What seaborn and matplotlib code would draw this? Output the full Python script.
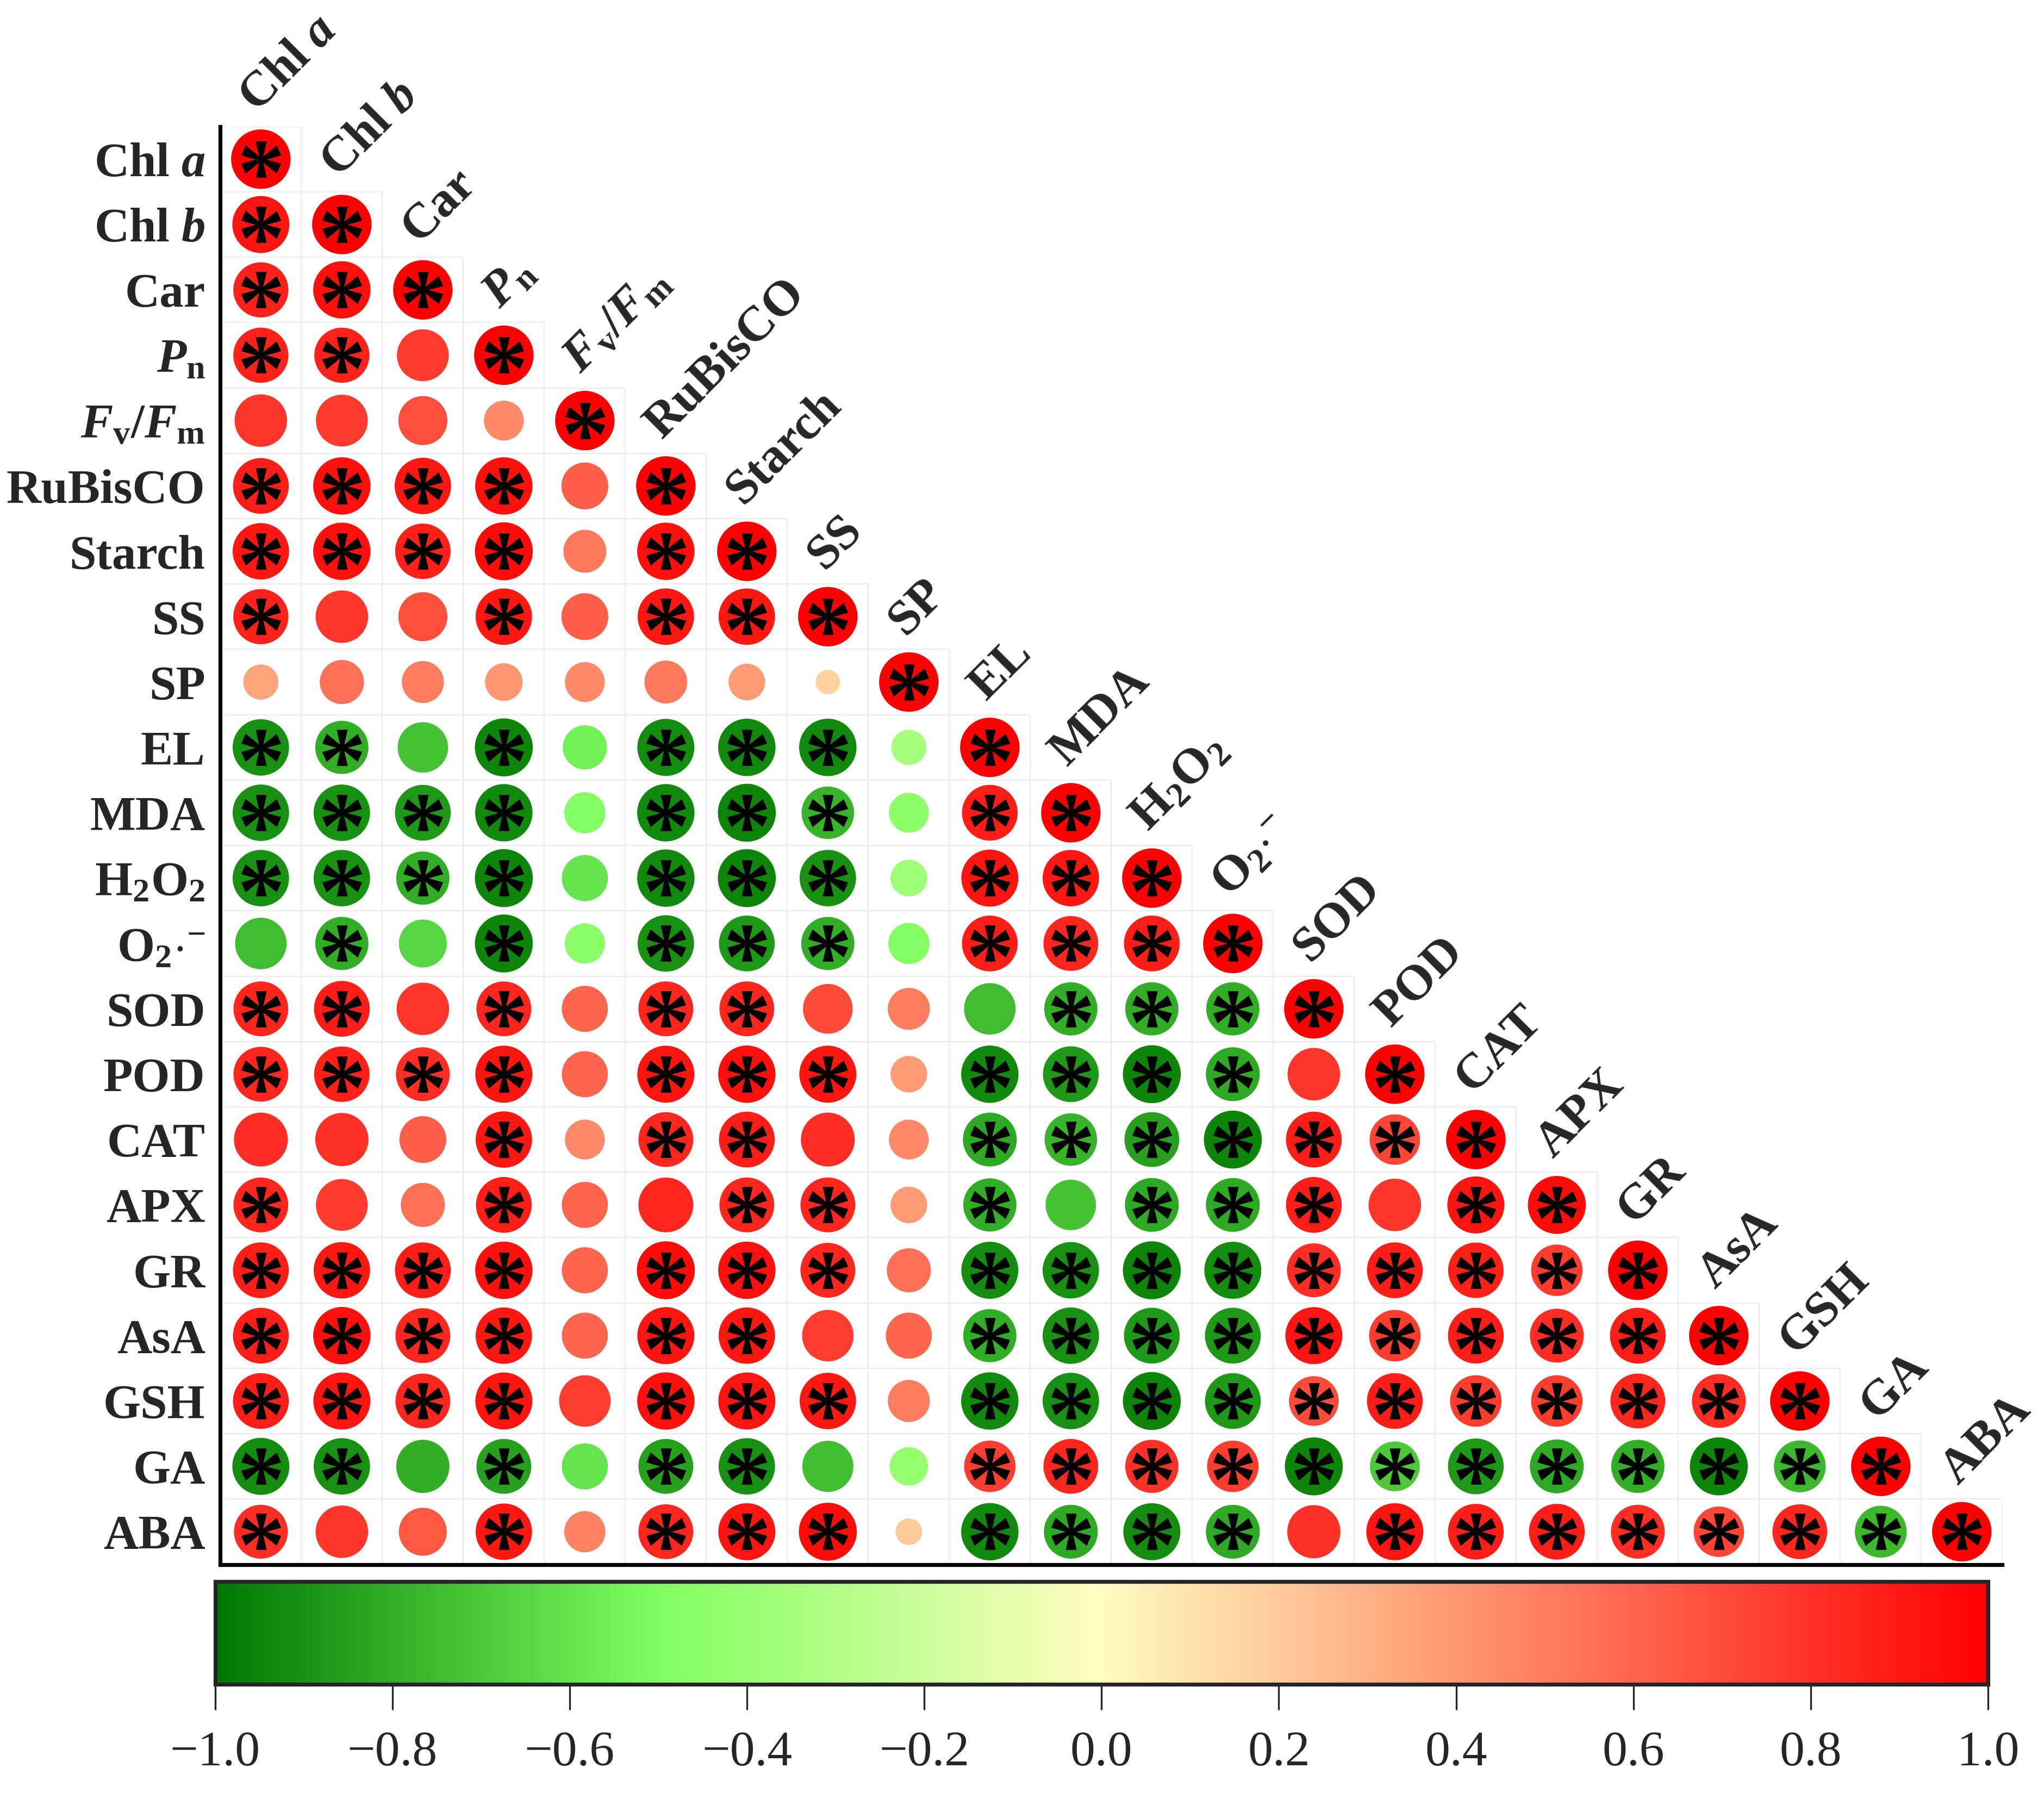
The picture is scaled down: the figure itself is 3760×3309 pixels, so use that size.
import numpy as np
import pandas as pd
import matplotlib
matplotlib.use("Agg")
import matplotlib.pyplot as plt
import seaborn as sns
from matplotlib.colors import LinearSegmentedColormap, Normalize
from matplotlib.cm import ScalarMappable

sns.set_style("white")
plt.rcParams['font.family'] = ['Liberation Serif', 'DejaVu Serif']
plt.rcParams['mathtext.fontset'] = 'custom'
plt.rcParams['mathtext.rm'] = 'Liberation Serif:bold'
plt.rcParams['mathtext.bf'] = 'Liberation Serif:bold'
plt.rcParams['mathtext.it'] = 'Liberation Serif:italic:bold'

# variable names (row labels / diagonal column labels)
labels = [r'Chl $\mathit{a}$', r'Chl $\mathit{b}$', 'Car', r'$\mathit{P}_{\mathrm{n}}$',
          r'$\mathit{F}_{\mathrm{v}}/\mathit{F}_{\mathrm{m}}$', 'RuBisCO', 'Starch', 'SS', 'SP',
          'EL', 'MDA', r'H$_2$O$_2$', r'O$_2{\cdot}^{-}$', 'SOD', 'POD', 'CAT', 'APX', 'GR',
          'AsA', 'GSH', 'GA', 'ABA']

# lower-triangle correlation coefficients, read row by row
r_rows = [
    [1.00],
    [0.92, 1.00],
    [0.86, 0.93, 1.00],
    [0.86, 0.86, 0.76, 1.00],
    [0.78, 0.76, 0.68, 0.45, 1.00],
    [0.88, 0.93, 0.90, 0.93, 0.62, 1.00],
    [0.90, 0.93, 0.87, 0.95, 0.52, 0.93, 1.00],
    [0.86, 0.78, 0.68, 0.90, 0.62, 0.90, 0.90, 1.00],
    [0.35, 0.55, 0.50, 0.40, 0.45, 0.52, 0.38, 0.17, 1.00],
    [-0.90, -0.80, -0.72, -0.95, -0.55, -0.92, -0.93, -0.93, -0.35, 1.00],
    [-0.90, -0.90, -0.88, -0.93, -0.48, -0.93, -0.95, -0.78, -0.45, 0.88, 1.00],
    [-0.90, -0.90, -0.80, -0.95, -0.60, -0.93, -0.95, -0.90, -0.38, 0.92, 0.90, 1.00],
    [-0.75, -0.80, -0.65, -0.95, -0.46, -0.90, -0.88, -0.80, -0.48, 0.88, 0.85, 0.88, 1.00],
    [0.85, 0.88, 0.78, 0.85, 0.60, 0.85, 0.85, 0.70, 0.50, -0.75, -0.80, -0.80, -0.80, 1.00],
    [0.85, 0.87, 0.82, 0.92, 0.60, 0.92, 0.93, 0.92, 0.38, -0.93, -0.88, -0.95, -0.82, 0.78, 1.00],
    [0.82, 0.80, 0.62, 0.90, 0.45, 0.85, 0.88, 0.82, 0.45, -0.82, -0.78, -0.85, -0.95, 0.88, 0.72, 1.00],
    [0.85, 0.76, 0.55, 0.88, 0.60, 0.85, 0.85, 0.85, 0.38, -0.80, -0.72, -0.82, -0.82, 0.88, 0.78, 0.92, 0.95],
    [0.88, 0.90, 0.88, 0.93, 0.60, 0.95, 0.93, 0.85, 0.55, -0.92, -0.90, -0.95, -0.92, 0.82, 0.88, 0.87, 0.75, 1.00],
    [0.88, 0.93, 0.85, 0.90, 0.60, 0.92, 0.90, 0.75, 0.60, -0.80, -0.90, -0.88, -0.88, 0.92, 0.75, 0.88, 0.82, 0.88, 1.00],
    [0.88, 0.92, 0.85, 0.92, 0.75, 0.93, 0.92, 0.90, 0.50, -0.93, -0.90, -0.95, -0.88, 0.70, 0.88, 0.75, 0.75, 0.85, 0.82, 1.00],
    [-0.92, -0.90, -0.80, -0.85, -0.60, -0.85, -0.90, -0.74, -0.42, 0.75, 0.85, 0.80, 0.75, -0.95, -0.70, -0.88, -0.82, -0.80, -0.95, -0.76, 1.00],
    [0.82, 0.78, 0.65, 0.90, 0.48, 0.85, 0.92, 0.95, 0.20, -0.93, -0.82, -0.92, -0.82, 0.80, 0.92, 0.88, 0.88, 0.82, 0.72, 0.85, -0.76, 1.00],
]

# significance flags (1 = asterisk)
sig_rows = [
    [1],
    [1, 1],
    [1, 1, 1],
    [1, 1, 0, 1],
    [0, 0, 0, 0, 1],
    [1, 1, 1, 1, 0, 1],
    [1, 1, 1, 1, 0, 1, 1],
    [1, 0, 0, 1, 0, 1, 1, 1],
    [0, 0, 0, 0, 0, 0, 0, 0, 1],
    [1, 1, 0, 1, 0, 1, 1, 1, 0, 1],
    [1, 1, 1, 1, 0, 1, 1, 1, 0, 1, 1],
    [1, 1, 1, 1, 0, 1, 1, 1, 0, 1, 1, 1],
    [0, 1, 0, 1, 0, 1, 1, 1, 0, 1, 1, 1, 1],
    [1, 1, 0, 1, 0, 1, 1, 0, 0, 0, 1, 1, 1, 1],
    [1, 1, 1, 1, 0, 1, 1, 1, 0, 1, 1, 1, 1, 0, 1],
    [0, 0, 0, 1, 0, 1, 1, 0, 0, 1, 1, 1, 1, 1, 1, 1],
    [1, 0, 0, 1, 0, 0, 1, 1, 0, 1, 0, 1, 1, 1, 0, 1, 1],
    [1, 1, 1, 1, 0, 1, 1, 1, 0, 1, 1, 1, 1, 1, 1, 1, 1, 1],
    [1, 1, 1, 1, 0, 1, 1, 0, 0, 1, 1, 1, 1, 1, 1, 1, 1, 1, 1],
    [1, 1, 1, 1, 0, 1, 1, 1, 0, 1, 1, 1, 1, 1, 1, 1, 1, 1, 1, 1],
    [1, 1, 0, 1, 0, 1, 1, 0, 0, 1, 1, 1, 1, 1, 1, 1, 1, 1, 1, 1, 1],
    [1, 0, 0, 1, 0, 1, 1, 1, 0, 1, 1, 1, 1, 0, 1, 1, 1, 1, 1, 1, 1, 1],
]

cbar_ticks = [-1.0, -0.8, -0.6, -0.4, -0.2, 0.0, 0.2, 0.4, 0.6, 0.8, 1.0]

# long table for seaborn
recs = []
for i, (rr, ss) in enumerate(zip(r_rows, sig_rows)):
    for j, (r, s) in enumerate(zip(rr, ss)):
        recs.append({'row': i, 'col': j, 'r': r, 'absr': abs(r), 'sig': s})
df = pd.DataFrame(recs)

cmap = LinearSegmentedColormap.from_list(
    'gyr', [(0.0, '#007800'), (0.25, '#80ff60'), (0.5, '#fffcc0'), (1.0, '#ff0000')])
norm = Normalize(vmin=-1, vmax=1)
n = len(labels)

fig = plt.figure(figsize=(18.8, 16.545), dpi=200)
ax = fig.add_axes([0.1078, 0.1304, 0.8718, 0.7993])

# faint staircase grid
for k in range(n):
    ax.hlines(k - 0.5, -0.5, k + 0.5, color='#ececec', lw=0.8, zorder=0)
    ax.vlines(k + 0.5, k - 0.5, n - 0.5, color='#ececec', lw=0.8, zorder=0)

sns.scatterplot(data=df, x='col', y='row', hue='r', size='absr', palette=cmap,
                hue_norm=norm, sizes=(0, 1550), size_norm=(0, 1), linewidth=0,
                legend=False, ax=ax, zorder=2)
sns.scatterplot(data=df[df['sig'] == 1], x='col', y='row', marker=r'$\mathbf{*}$',
                s=700, color='black', linewidth=0, legend=False, ax=ax, zorder=3)

ax.set_xlim(-0.5, n - 0.5)
ax.set_ylim(n - 0.5, -0.5)
ax.set_xlabel('')
ax.set_ylabel('')
ax.set_xticks([])
ax.set_yticks(range(n))
ax.set_yticklabels(labels, fontsize=32, fontweight='bold')
ax.tick_params(axis='y', length=0, pad=10)
for side in ['top', 'right']:
    ax.spines[side].set_visible(False)
for side in ['left', 'bottom']:
    ax.spines[side].set_color('black')
    ax.spines[side].set_linewidth(2.6)

# diagonal column labels
for j, lab in enumerate(labels):
    ax.text(j - 0.05, j - 1 + 0.3, lab, rotation=45, rotation_mode='anchor',
            ha='left', va='baseline', fontsize=33, fontweight='bold', clip_on=False)

# colorbar
cax = fig.add_axes([0.1052, 0.0638, 0.8674, 0.0572])
cb = fig.colorbar(ScalarMappable(norm=norm, cmap=cmap), cax=cax,
                  orientation='horizontal', ticks=cbar_ticks)
cb.outline.set_linewidth(2.6)
cb.ax.set_xticklabels([f'{t:.1f}'.replace('-', '\u2212') for t in cbar_ticks], fontsize=33)
cb.ax.tick_params(axis='x', length=17, width=1.2, pad=14)

fig.savefig('out.png', dpi=200)
